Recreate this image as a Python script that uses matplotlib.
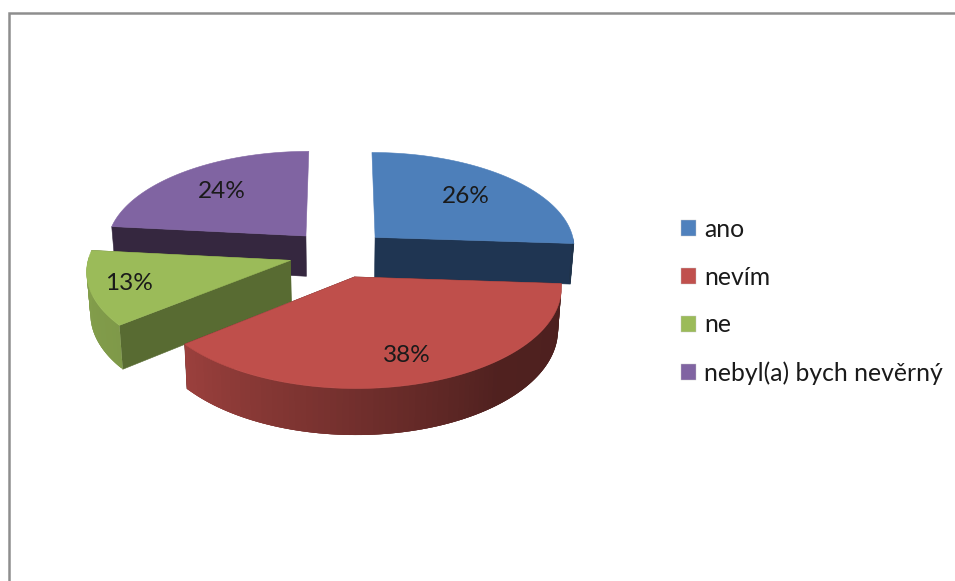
import numpy as np
import matplotlib
matplotlib.use('Agg')
import matplotlib.pyplot as plt
from matplotlib.patches import Polygon, Patch

# data
categories = ['ano', 'nevím', 'ne', 'nebyl(a) bych nevěrný']
values = [26.2, 38.4, 12.5, 23.5]
labels = ['26%', '38%', '13%', '24%']

# colours
top_colors = ['#4d7fba', '#bf4f4b', '#9bbb59', '#8064a2']
wall_colors = ['#1f3552', '#4f1f1d', '#586b32', '#35273f']
legend_colors = ['#4f81bd', '#c0504d', '#9bbb59', '#8064a2']

plt.rcParams['font.family'] = ['Lato', 'DejaVu Sans']

# projection of the tilted pie, everything in figure pixels
cx, cy = 339, 253.5
rx, ry = 201, 96
persp = 0.0965
depth = 41
explode = 0.25


def project(x, y, down=0.0):
    s = 1 / (1 + persp * y)
    shrink = 1 - 0.015 * down
    return cx + rx * x * s * shrink, cy - ry * y * s + depth * s * down


def rim_shade(a):
    # side shading of the outer rim, light on the left and dark on the right
    return np.interp(a, [93, 140, 180, 232, 280], [0.40, 0.42, 0.60, 0.82, 0.86])


fig = plt.figure(figsize=(9.55, 5.81), dpi=100)
ax = fig.add_axes([0, 0, 1, 1])
ax.set_xlim(0, 955)
ax.set_ylim(581, 0)
ax.axis('off')

# frame of the chart, only top and left show in the screenshot
ax.plot([8.5, 8.5, 955], [581, 12.5, 12.5], color='#8e8e8e', lw=1.8, solid_joinstyle='miter')

fractions = np.array(values) / sum(values)
ends = np.cumsum(fractions) * 360
starts = ends - fractions * 360

# back slices first, front ones overlap them
for i in [3, 0, 2, 1]:
    a0, a1 = starts[i], ends[i]
    mid = np.radians((a0 + a1) / 2)
    ox, oy = explode * np.sin(mid), explode * np.cos(mid)
    angles = np.linspace(a0, a1, 90)
    px = ox + np.sin(np.radians(angles))
    py = oy + np.cos(np.radians(angles))

    # radial walls, the ones pointing straight back never show
    for a in sorted([a0, a1], key=lambda v: -np.cos(np.radians(v))):
        if np.cos(np.radians(a)) > 0.2:
            continue
        ex, ey = ox + np.sin(np.radians(a)), oy + np.cos(np.radians(a))
        wall = [project(ox, oy), project(ex, ey), project(ex, ey, 1), project(ox, oy, 1)]
        ax.add_patch(Polygon(wall, closed=True, fc=wall_colors[i], ec=wall_colors[i], lw=0.4))

    # outer rim as thin overlapping strips so it can carry the gradient
    base = np.array(matplotlib.colors.to_rgb(top_colors[i]))
    for j in range(len(angles) - 1):
        if np.cos(np.radians(angles[j])) > 0.02:
            continue
        k = min(j + 3, len(angles) - 1)
        strip = [project(px[j], py[j]), project(px[k], py[k]),
                 project(px[k], py[k], 1), project(px[j], py[j], 1)]
        c = base * rim_shade(angles[j])
        ax.add_patch(Polygon(strip, closed=True, fc=c, ec='none', lw=0))

    # top face
    top = [project(ox, oy)] + [project(x, y) for x, y in zip(px, py)]
    ax.add_patch(Polygon(top, closed=True, fc=top_colors[i], ec=top_colors[i], lw=0.4))

# percentage labels
label_r = [0.67, 0.76, 0.81, 0.68]
for i in range(4):
    mid = np.radians((starts[i] + ends[i]) / 2)
    x = (explode + label_r[i]) * np.sin(mid)
    y = (explode + label_r[i]) * np.cos(mid)
    tx, ty = project(x, y)
    ax.text(tx, ty, labels[i], ha='center', va='center', fontsize=17.6, color='#1a1a1a')

# legend
handles = [Patch(fc=c, ec='#c8c8c8', lw=0.3) for c in legend_colors]
ax.legend(handles, categories, loc='upper left', bbox_to_anchor=(681, 218),
          bbox_transform=ax.transData, frameon=False, fontsize=17.8,
          handlelength=0.62, handleheight=0.62, handletextpad=0.32,
          labelspacing=1.0, labelcolor='#1a1a1a', borderpad=0, borderaxespad=0)

plt.savefig('out.png', dpi=100)
